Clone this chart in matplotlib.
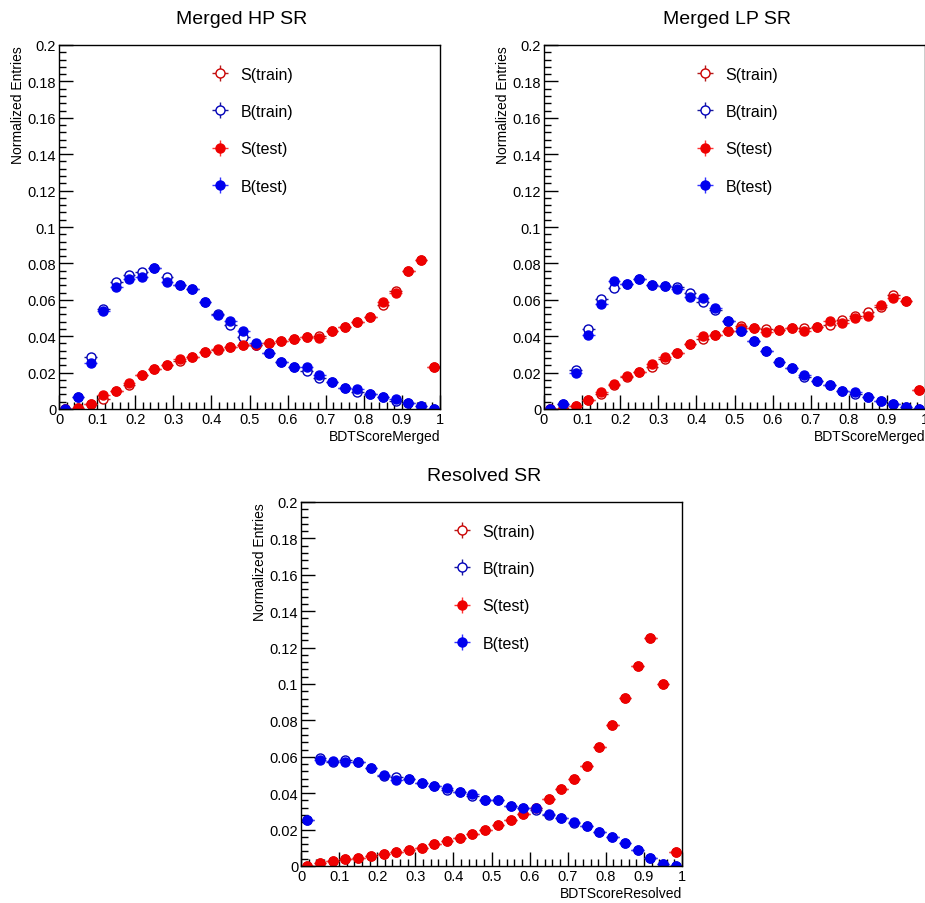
import numpy as np
import matplotlib
matplotlib.use("Agg")
import matplotlib.pyplot as plt
from matplotlib.ticker import MultipleLocator, FormatStrFormatter

plt.rcParams['font.family'] = ['Liberation Sans', 'DejaVu Sans']

# 30 bins on [0, 1]
bin_edges = np.linspace(0, 1, 31)

# Merged HP SR
hp_s_train = [0.0, 0.0004, 0.0026, 0.0055, 0.0099, 0.0134, 0.0187, 0.0220, 0.0242, 0.0264,
              0.0286, 0.0312, 0.0324, 0.0338, 0.0352, 0.0349, 0.0363, 0.0374, 0.0385, 0.0398,
              0.0403, 0.0426, 0.0451, 0.0477, 0.0508, 0.0573, 0.0651, 0.0760, 0.0820, 0.0233]
hp_b_train = [0.0, 0.0064, 0.0284, 0.0550, 0.0700, 0.0738, 0.0752, 0.0773, 0.0728, 0.0680,
              0.0659, 0.0590, 0.0523, 0.0464, 0.0393, 0.0349, 0.0308, 0.0260, 0.0229, 0.0207,
              0.0172, 0.0150, 0.0117, 0.0092, 0.0083, 0.0066, 0.0046, 0.0033, 0.0015, 0.0]
hp_s_test = [0.0, 0.0004, 0.0026, 0.0077, 0.0099, 0.0143, 0.0187, 0.0220, 0.0242, 0.0275,
             0.0286, 0.0312, 0.0328, 0.0338, 0.0352, 0.0352, 0.0363, 0.0374, 0.0385, 0.0398,
             0.0390, 0.0426, 0.0451, 0.0477, 0.0508, 0.0587, 0.0637, 0.0760, 0.0820, 0.0233]
hp_b_test = [0.0, 0.0064, 0.0251, 0.0540, 0.0668, 0.0716, 0.0728, 0.0773, 0.0697, 0.0680,
             0.0659, 0.0590, 0.0514, 0.0483, 0.0426, 0.0363, 0.0308, 0.0260, 0.0229, 0.0233,
             0.0187, 0.0150, 0.0117, 0.0112, 0.0083, 0.0066, 0.0055, 0.0033, 0.0015, 0.0]

# Merged LP SR
lp_s_train = [0.0, 0.0, 0.0018, 0.0051, 0.0083, 0.0134, 0.0175, 0.0202, 0.0233, 0.0275,
              0.0310, 0.0358, 0.0385, 0.0404, 0.0426, 0.0455, 0.0444, 0.0440, 0.0435, 0.0444,
              0.0446, 0.0453, 0.0462, 0.0490, 0.0510, 0.0532, 0.0560, 0.0628, 0.0591, 0.0105]
lp_b_train = [0.0, 0.0028, 0.0217, 0.0440, 0.0606, 0.0666, 0.0688, 0.0716, 0.0683, 0.0677,
              0.0670, 0.0637, 0.0590, 0.0545, 0.0481, 0.0428, 0.0373, 0.0317, 0.0260, 0.0224,
              0.0176, 0.0156, 0.0132, 0.0101, 0.0083, 0.0064, 0.0042, 0.0029, 0.0013, 0.0]
lp_s_test = [0.0, 0.0, 0.0018, 0.0051, 0.0095, 0.0138, 0.0180, 0.0202, 0.0248, 0.0284,
             0.0306, 0.0358, 0.0400, 0.0404, 0.0426, 0.0444, 0.0444, 0.0422, 0.0435, 0.0444,
             0.0431, 0.0453, 0.0486, 0.0473, 0.0499, 0.0510, 0.0574, 0.0609, 0.0591, 0.0105]
lp_b_test = [0.0, 0.0028, 0.0196, 0.0409, 0.0576, 0.0706, 0.0688, 0.0716, 0.0683, 0.0677,
             0.0660, 0.0615, 0.0611, 0.0556, 0.0481, 0.0428, 0.0373, 0.0317, 0.0260, 0.0224,
             0.0187, 0.0156, 0.0132, 0.0101, 0.0092, 0.0064, 0.0042, 0.0029, 0.0013, 0.0]

# Resolved SR
res_s_train = [0.0, 0.0018, 0.0028, 0.0037, 0.0046, 0.0053, 0.0068, 0.0077, 0.0090, 0.0101,
               0.0119, 0.0138, 0.0154, 0.0176, 0.0198, 0.0224, 0.0255, 0.0288, 0.0316, 0.0367,
               0.0422, 0.0479, 0.0552, 0.0653, 0.0774, 0.0921, 0.1101, 0.1253, 0.1000, 0.0079]
res_b_train = [0.0253, 0.0592, 0.0573, 0.0583, 0.0573, 0.0540, 0.0495, 0.0490, 0.0479, 0.0458,
               0.0442, 0.0417, 0.0407, 0.0382, 0.0365, 0.0361, 0.0330, 0.0319, 0.0305, 0.0281,
               0.0262, 0.0238, 0.0218, 0.0189, 0.0160, 0.0125, 0.0090, 0.0046, 0.0013, 0.0]
res_s_test = [0.0, 0.0018, 0.0028, 0.0037, 0.0046, 0.0053, 0.0068, 0.0077, 0.0090, 0.0101,
              0.0119, 0.0138, 0.0154, 0.0176, 0.0198, 0.0224, 0.0255, 0.0288, 0.0316, 0.0367,
              0.0422, 0.0479, 0.0552, 0.0653, 0.0774, 0.0921, 0.1101, 0.1253, 0.1000, 0.0079]
res_b_test = [0.0253, 0.0582, 0.0578, 0.0569, 0.0573, 0.0540, 0.0501, 0.0473, 0.0479, 0.0455,
              0.0442, 0.0431, 0.0407, 0.0398, 0.0365, 0.0361, 0.0330, 0.0319, 0.0316, 0.0288,
              0.0262, 0.0244, 0.0218, 0.0189, 0.0160, 0.0125, 0.0090, 0.0046, 0.0013, 0.0]

panels = [
    ("Merged HP SR", "BDTScoreMerged", hp_s_train, hp_b_train, hp_s_test, hp_b_test,
     [59 / 925, 1 - 410 / 904, 381 / 925, 364 / 904]),
    ("Merged LP SR", "BDTScoreMerged", lp_s_train, lp_b_train, lp_s_test, lp_b_test,
     [544 / 925, 1 - 410 / 904, 381 / 925, 364 / 904]),
    ("Resolved SR", "BDTScoreResolved", res_s_train, res_b_train, res_s_test, res_b_test,
     [301 / 925, 1 - 867 / 904, 381 / 925, 364 / 904]),
]

centers = 0.5 * (bin_edges[:-1] + bin_edges[1:])
half_w = 0.5 * np.diff(bin_edges)
yerr = 0.0004

fig = plt.figure(figsize=(9.25, 9.04), dpi=100)

for title, xlabel, s_tr, b_tr, s_te, b_te, rect in panels:
    ax = fig.add_axes(rect)
    common = dict(xerr=half_w, yerr=yerr, linestyle="none", marker="o", markersize=6.5,
                  elinewidth=1.0, capsize=0)
    ax.errorbar(centers, s_tr, color="#b31b1b", mfc="white", mec="#cc0000",
                label="S(train)", **common)
    ax.errorbar(centers, b_tr, color="#1a1a99", mfc="white", mec="#0000bb",
                label="B(train)", **common)
    ax.errorbar(centers, s_te, color="#ff3333", mfc="#ee0000", mec="#ee0000",
                label="S(test)", **common)
    ax.errorbar(centers, b_te, color="#3333ff", mfc="#0000ee", mec="#0000ee",
                label="B(test)", **common)

    ax.set_xlim(0, 1)
    ax.set_ylim(0, 0.2)
    ax.xaxis.set_major_locator(MultipleLocator(0.1))
    ax.xaxis.set_minor_locator(MultipleLocator(0.02))
    ax.yaxis.set_major_locator(MultipleLocator(0.02))
    ax.yaxis.set_minor_locator(MultipleLocator(0.004))
    ax.xaxis.set_major_formatter(FormatStrFormatter("%g"))
    ax.yaxis.set_major_formatter(FormatStrFormatter("%g"))
    ax.tick_params(which="both", direction="in", top=False, right=False,
                   labelsize=10.5, width=1.0)
    ax.tick_params(which="major", length=10, pad=2)
    ax.tick_params(which="minor", length=5)
    for sp in ax.spines.values():
        sp.set_linewidth(1.0)

    ax.set_title(title, fontsize=14, pad=16, x=0.48)
    ax.set_xlabel(xlabel, fontsize=10, loc="right", labelpad=2)
    ax.set_ylabel("Normalized Entries", fontsize=10, loc="top", labelpad=2)

    ax.legend(loc="upper center", bbox_to_anchor=(0.5, 0.98), frameon=False,
              fontsize=11.5, labelspacing=1.4, handlelength=1.8, handletextpad=0.4)

fig.savefig("out.png", dpi=100)
